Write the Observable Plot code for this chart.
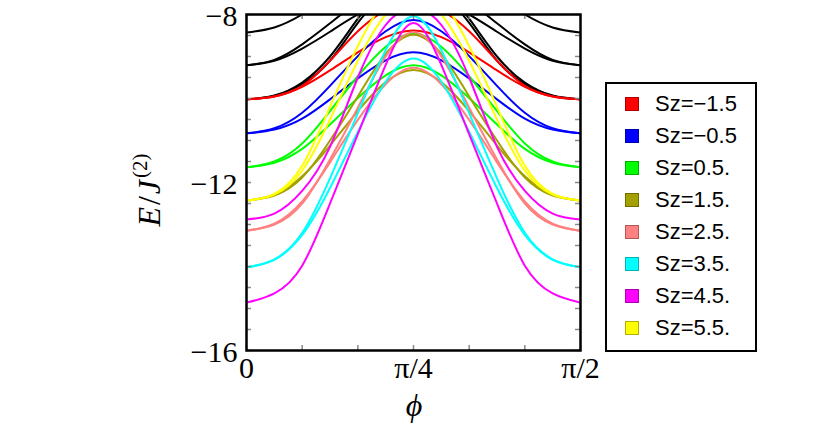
<!DOCTYPE html>
<html>
<head>
<meta charset="utf-8">
<script src="https://cdn.jsdelivr.net/npm/d3@7"></script>
<script src="https://cdn.jsdelivr.net/npm/@observablehq/plot@0.6"></script>
<style>
  body { margin: 0; background: white; }
  #wrap { position: relative; width: 830px; height: 427px; }
  #legend { position: absolute; left: 605px; top: 82px; width: 148px; height: 266px;
            border: 2px solid black; background: white; font-family: "Liberation Sans", Arial, sans-serif; }
  .row { position: absolute; left: 18px; height: 24px; display: flex; align-items: center; font-size: 22px; color: black; }
  .sw { width: 14px; height: 14px; margin-right: 16px; box-sizing: border-box; border: 1px solid rgba(0,0,0,0.3); }
</style>
</head>
<body>
<div id="wrap"></div>
<script>
// sample positions: phi = k * pi/24, k = 0..12
const sampleK = [0,1,2,3,4,5,6,7,8,9,10,11,12];

// legend categories
const szLabels = ["Sz=\u22121.5","Sz=\u22120.5","Sz=0.5.","Sz=1.5.","Sz=2.5.","Sz=3.5.","Sz=4.5.","Sz=5.5."];
const szColors = ["#ff0000","#0000ff","#00ff00","#a3a000","#ff8080","#00ffff","#ff00ff","#ffff00"];

// tick labels
const yTickVals = [-16,-12,-8];
const yTickText = ["\u221216","\u221212","\u22128"];
const xTickText = ["0","\u03c0/4","\u03c0/2"];

// energy levels (E / J^(2)) at the 13 sample phis
const black1 = [-8.43,-8.31,-8.0,-7.57,-7.14,-6.83,-6.71,-6.83,-7.14,-7.57,-8.0,-8.31,-8.43];
const black2 = [-9.21,-9.08,-8.71,-8.21,-7.7,-7.33,-7.2,-7.33,-7.7,-8.21,-8.71,-9.08,-9.21];
const black3 = [-9.21,-9.10,-8.81,-8.41,-8.0,-7.71,-7.6,-7.71,-8.0,-8.41,-8.81,-9.10,-9.21];
const black4 = [-10.02,-9.93,-9.62,-9.0,-8.1,-7.35,-7.05,-7.35,-8.1,-9.0,-9.62,-9.93,-10.02];
const black5 = [-10.02,-9.94,-9.66,-9.1,-8.2,-7.5,-7.2,-7.5,-8.2,-9.1,-9.66,-9.94,-10.02];
const red1   = [-10.02,-9.95,-9.7,-9.1,-8.4,-7.9,-7.72,-7.9,-8.4,-9.1,-9.7,-9.95,-10.02];
const red2   = [-10.02,-9.95,-9.72,-9.33,-8.90,-8.54,-8.38,-8.54,-8.90,-9.33,-9.72,-9.95,-10.02];
const blue1  = [-10.83,-10.71,-10.34,-9.70,-8.99,-8.40,-8.13,-8.40,-8.99,-9.70,-10.34,-10.71,-10.83];
const blue2  = [-10.83,-10.74,-10.48,-10.02,-9.52,-9.09,-8.90,-9.09,-9.52,-10.02,-10.48,-10.74,-10.83];
const green1 = [-11.64,-11.50,-11.07,-10.30,-9.47,-8.77,-8.45,-8.77,-9.47,-10.30,-11.07,-11.50,-11.64];
const green2 = [-11.64,-11.53,-11.20,-10.62,-9.99,-9.45,-9.21,-9.45,-9.99,-10.62,-11.20,-11.53,-11.64];
const olive1 = [-12.43,-12.31,-11.88,-11.0,-9.95,-8.94,-8.48,-8.94,-9.95,-11.0,-11.88,-12.31,-12.43];
const olive2 = [-12.43,-12.29,-11.85,-11.12,-10.30,-9.61,-9.32,-9.61,-10.30,-11.12,-11.85,-12.29,-12.43];
const salmon1= [-13.15,-13.0,-12.5,-11.45,-10.22,-9.0,-8.42,-9.0,-10.22,-11.45,-12.5,-13.0,-13.15];
const salmon2= [-13.15,-12.98,-12.45,-11.52,-10.51,-9.66,-9.27,-9.66,-10.51,-11.52,-12.45,-12.98,-13.15];
const cyan1  = [-14.02,-13.83,-13.2,-11.9,-10.35,-8.85,-8.04,-8.85,-10.35,-11.9,-13.2,-13.83,-14.02];
const cyan2  = [-14.02,-13.84,-13.25,-12.13,-10.79,-9.6,-9.05,-9.6,-10.79,-12.13,-13.25,-13.84,-14.02];
const magenta1=[-14.86,-14.64,-13.98,-12.5,-10.85,-9.2,-8.2,-9.2,-10.85,-12.5,-13.98,-14.64,-14.86];
const magenta2=[-12.88,-12.74,-12.2,-11.15,-9.5,-8.25,-7.85,-8.25,-9.5,-11.15,-12.2,-12.74,-12.88];
const yellow1= [-12.43,-12.27,-11.6,-10.2,-8.75,-7.65,-7.25,-7.65,-8.75,-10.2,-11.6,-12.27,-12.43];
const yellow2= [-12.43,-12.29,-11.72,-10.5,-9.1,-8.0,-7.6,-8.0,-9.1,-10.5,-11.72,-12.29,-12.43];

const series = [
  ["black1","black",black1],["black2","black",black2],["black3","black",black3],
  ["black4","black",black4],["black5","black",black5],
  ["red1",szLabels[0],red1],["red2",szLabels[0],red2],
  ["blue1",szLabels[1],blue1],["blue2",szLabels[1],blue2],
  ["green1",szLabels[2],green1],["green2",szLabels[2],green2],
  ["olive1",szLabels[3],olive1],["olive2",szLabels[3],olive2],
  ["salmon1",szLabels[4],salmon1],["salmon2",szLabels[4],salmon2],
  ["cyan1",szLabels[5],cyan1],["cyan2",szLabels[5],cyan2],
  ["magenta1",szLabels[6],magenta1],["magenta2",szLabels[6],magenta2],
  ["yellow1",szLabels[7],yellow1],["yellow2",szLabels[7],yellow2]
];

const phiOf = k => k * Math.PI / 24;
const rows = series.flatMap(([id, group, vals]) => vals.map((E, i) => ({phi: phiOf(sampleK[i]), E, id, group})));

// minor tick positions
const yMinor = d3.range(-16, -7.99, 0.5);
const xMinor = d3.range(0, 7).map(k => k * Math.PI / 12);

const W = 830, H = 427, mL = 246, mR = 250, mT = 14, mB = 77;
const pxPerX = (W - mL - mR) / (Math.PI / 2);
const pxPerY = (H - mT - mB) / 8;
const tLen = 5;

const plot = Plot.plot({
  width: W, height: H,
  marginLeft: mL, marginRight: mR, marginTop: mT, marginBottom: mB,
  x: {domain: [0, Math.PI / 2]},
  y: {domain: [-16, -8]},
  color: {domain: ["black", ...szLabels], range: ["#000000", ...szColors]},
  style: {fontFamily: "Liberation Serif, serif", background: "white", color: "black"},
  marks: [
    Plot.line(rows, {x: "phi", y: "E", z: "id", stroke: "group", strokeWidth: 2,
      curve: "natural", clip: true, strokeLinejoin: "round"}),
    Plot.ruleY(yMinor, {y: d => d, x1: 0, x2: tLen / pxPerX, stroke: "#888", strokeWidth: 1.5}),
    Plot.ruleY(yMinor, {y: d => d, x1: Math.PI / 2 - tLen / pxPerX, x2: Math.PI / 2, stroke: "#888", strokeWidth: 1.5}),
    Plot.ruleX(xMinor, {x: d => d, y1: -16, y2: -16 + tLen / pxPerY, stroke: "#888", strokeWidth: 1.5}),
    Plot.ruleX(xMinor, {x: d => d, y1: -8 - tLen / pxPerY, y2: -8, stroke: "#888", strokeWidth: 1.5}),
    Plot.frame({stroke: "black", strokeWidth: 2.5}),
    Plot.axisY({ticks: yTickVals, tickSize: 0, tickPadding: 9, fontSize: 30, dy: 2,
      tickFormat: d => yTickText[yTickVals.indexOf(d)], label: null}),
    Plot.axisX({ticks: [0, Math.PI / 4, Math.PI / 2], tickSize: 0, tickPadding: 6, fontSize: 30,
      tickFormat: (d, i) => xTickText[i], label: null})
  ]
});

const wrap = document.getElementById("wrap");
wrap.appendChild(plot);

const svg = d3.select(plot);
// y label E/J^(2)
const yl = svg.append("text")
  .attr("transform", "translate(160,190) rotate(-90)")
  .attr("text-anchor", "middle")
  .attr("font-family", "Liberation Serif, serif")
  .attr("font-size", 32)
  .attr("fill", "black");
yl.append("tspan").attr("font-style", "italic").text("E");
yl.append("tspan").attr("dx", 2).text("/");
yl.append("tspan").attr("font-style", "italic").attr("dx", 2).text("J");
yl.append("tspan").attr("font-size", 21).attr("dx", 2).attr("dy", -13).text("(2)");
// x label phi
svg.append("text")
  .attr("x", 414).attr("y", 416)
  .attr("text-anchor", "middle")
  .attr("font-family", "Liberation Serif, serif")
  .attr("font-style", "italic")
  .attr("font-size", 32)
  .attr("fill", "black")
  .text("\u03d5");

// legend
const legend = document.createElement("div");
legend.id = "legend";
szLabels.forEach((lab, i) => {
  const r = document.createElement("div");
  r.className = "row";
  r.style.top = (8 + i * 32) + "px";
  const sw = document.createElement("div");
  sw.className = "sw";
  sw.style.background = szColors[i];
  const t = document.createElement("span");
  t.textContent = lab;
  r.appendChild(sw); r.appendChild(t);
  legend.appendChild(r);
});
wrap.appendChild(legend);
</script>
</body>
</html>
